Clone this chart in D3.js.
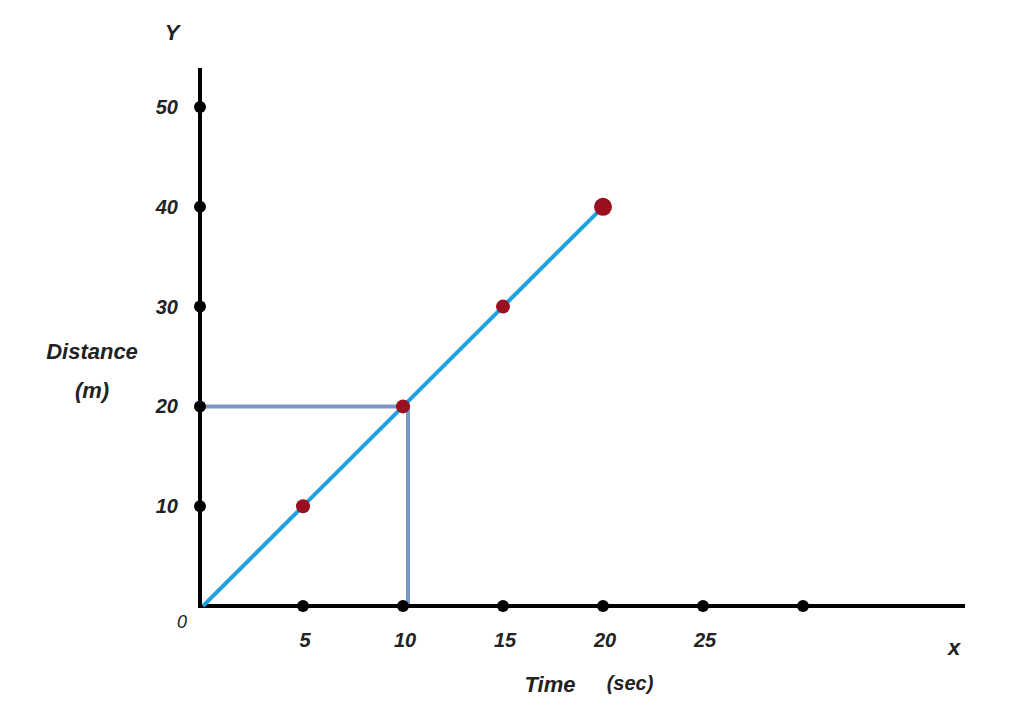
<!DOCTYPE html>
<html><head><meta charset="utf-8">
<script src="https://cdn.jsdelivr.net/npm/d3@7"></script>
<style>body{margin:0;background:#fff}text{font-family:"Liberation Sans",Arial,sans-serif;font-style:italic;font-weight:bold;fill:#222}</style>
</head><body><div id="chart"></div>
<script>
const xTicks = [5, 10, 15, 20, 25, 30];
const xTickLabels = ["5", "10", "15", "20", "25", ""];
const yTicks = [10, 20, 30, 40, 50];
const times = [0, 5, 10, 15, 20];
const distances = [0, 10, 20, 30, 40];
const guide = {t: 10, d: 20};

const width = 1012, height = 708;
const svg = d3.select("#chart").append("svg").attr("width", width).attr("height", height);

const x = d3.scaleLinear().domain([0, 30]).range([203, 803]);
const y = d3.scaleLinear().domain([0, 50]).range([606, 107]);

// guide lines
svg.append("polyline")
  .attr("points", [[200, y(guide.d)], [x(guide.t) + 5, y(guide.d)], [x(guide.t) + 5, 606]].join(" "))
  .style("fill", "none").style("stroke", "#7b97c4").style("stroke-width", 4);

// axes
svg.append("line").attr("x1", 200).attr("y1", 68).attr("x2", 200).attr("y2", 606)
  .style("stroke", "#000").style("stroke-width", 4);
svg.append("line").attr("x1", 198).attr("y1", 606).attr("x2", 965).attr("y2", 606)
  .style("stroke", "#000").style("stroke-width", 4);

// tick dots
svg.selectAll(".ydot").data(yTicks).enter().append("circle")
  .attr("cx", 200).attr("cy", d => y(d)).attr("r", 6).style("fill", "#000");
svg.selectAll(".xdot").data(xTicks).enter().append("circle")
  .attr("cx", d => x(d)).attr("cy", 606).attr("r", 6).style("fill", "#000");

svg.selectAll(".ylab").data(yTicks).enter().append("text")
  .attr("x", 178).attr("y", d => y(d) + 7).attr("text-anchor", "end")
  .style("font-size", "20px").text(d => d);
svg.selectAll(".xlab").data(xTicks).enter().append("text")
  .attr("x", d => x(d) + 2).attr("y", 647).attr("text-anchor", "middle")
  .style("font-size", "20px").text((d, i) => xTickLabels[i]);

// line
const line = d3.line().x((d, i) => x(times[i])).y(d => y(d));
svg.append("path").datum(distances).attr("d", line)
  .style("fill", "none").style("stroke", "#1fa3e0").style("stroke-width", 4);

// points
svg.selectAll(".pt").data(distances.slice(1)).enter().append("circle")
  .attr("cx", (d, i) => x(times[i + 1])).attr("cy", d => y(d))
  .attr("r", (d, i) => i === 3 ? 9 : 7).style("fill", "#9b1020");

// labels
svg.append("text").attr("x", 182).attr("y", 628).attr("text-anchor", "middle").style("font-size", "18px").style("font-weight", "normal").text("0");
svg.append("text").attr("x", 172).attr("y", 40).attr("text-anchor", "middle").style("font-size", "22px").text("Y");
svg.append("text").attr("x", 954).attr("y", 655).attr("text-anchor", "middle").style("font-size", "22px").text("x");
svg.append("text").attr("x", 92).attr("y", 359).attr("text-anchor", "middle").style("font-size", "22px").text("Distance");
svg.append("text").attr("x", 92).attr("y", 398).attr("text-anchor", "middle").style("font-size", "22px").text("(m)");
svg.append("text").attr("x", 550).attr("y", 692).attr("text-anchor", "middle").style("font-size", "22px").text("Time");
svg.append("text").attr("x", 630).attr("y", 690).attr("text-anchor", "middle").style("font-size", "20px").text("(sec)");
</script></body></html>
